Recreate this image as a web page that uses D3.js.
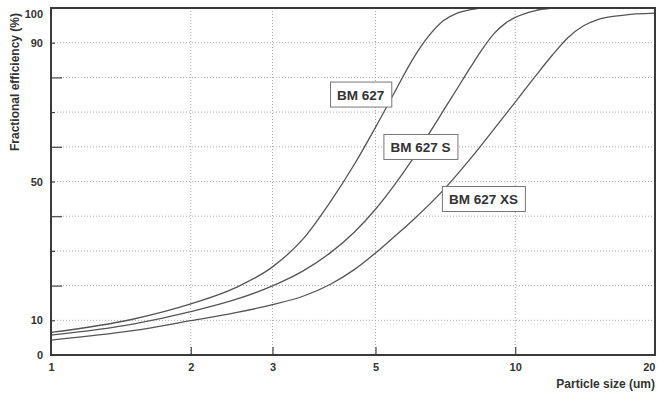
<!DOCTYPE html>
<html>
<head>
<meta charset="utf-8">
<script src="https://cdn.jsdelivr.net/npm/d3@7"></script>
<style>
  body { margin: 0; background: #fff; }
  svg { font-family: "Liberation Sans", Arial, sans-serif; }
  .grid line { stroke: #aaa; stroke-dasharray: 1,2; }
  .axis text { font-size: 11px; font-weight: bold; fill: #333; }
  .axis line { stroke: #444; stroke-width: 1.2; }
  .axis path { display: none; }
  .curve { fill: none; stroke: #555; stroke-width: 1.3; }
</style>
</head>
<body>
<div id="chart"></div>
<script>
// particle size (um) and fractional efficiency (%)
const sizes627 = [1, 1.5, 2, 2.5, 3, 3.5, 4, 4.5, 5, 5.5, 6, 6.5, 7, 7.5, 8, 8.4];
const eff627 = [6.5, 10.3, 14.7, 19.4, 25.4, 33.6, 44.2, 54.9, 65.6, 75.8, 85, 91.8, 96.3, 98.5, 99.5, 100];

const sizes627S = [1, 1.5, 2, 2.5, 3, 3.5, 4, 4.5, 5, 5.5, 6, 6.5, 7, 7.5, 8, 8.5, 9, 9.5, 10, 11, 12];
const eff627S = [5.7, 8.9, 12.5, 16, 19.9, 24.3, 29.5, 35.4, 42, 49.1, 56.3, 63.5, 70.4, 76.8, 82.8, 88.2, 92.6, 95.5, 97.3, 99.2, 100];

const sizes627XS = [1, 1.5, 2, 2.5, 3, 3.5, 4, 4.5, 5, 5.5, 6, 7, 8, 9, 10, 11, 12, 13, 14, 15, 17, 20];
const eff627XS = [4.3, 7, 9.9, 12.2, 14.5, 17, 20.4, 24.6, 29.4, 34.2, 38.7, 47.5, 56.5, 65.1, 72.9, 80, 86.3, 91.5, 94.8, 96.6, 97.9, 98.5];

const seriesNames = ['BM 627', 'BM 627 S', 'BM 627 XS'];
const xTicks = [1, 2, 3, 5, 10, 20];
const yTicks = [0, 10, 20, 30, 40, 50, 60, 70, 80, 90, 100];
const yLabels = [0, 10, 50, 90, 100];
const yLongTicks = [20, 40, 60, 80];

const series = [
  { name: seriesNames[0], x: sizes627, y: eff627 },
  { name: seriesNames[1], x: sizes627S, y: eff627S },
  { name: seriesNames[2], x: sizes627XS, y: eff627XS }
];

// where each label box sits (size, efficiency of its top-left corner)
const labelAt = [
  { s: 3.99, v: 78.8 },
  { s: 5.2, v: 63.7 },
  { s: 6.95, v: 48.7 }
];

const W = 657, H = 393;
const margin = { top: 8, right: 2, bottom: 38, left: 51 };
const width = W - margin.left - margin.right;
const height = H - margin.top - margin.bottom;

const svg = d3.select('#chart').append('svg')
  .attr('width', W).attr('height', H);
const g = svg.append('g')
  .attr('transform', 'translate(' + margin.left + ',' + margin.top + ')');

const x = d3.scaleLog().domain([1, 20]).range([0, width]);
const y = d3.scaleLinear().domain([0, 100]).range([height, 0]);

// dotted grid
const grid = g.append('g').attr('class', 'grid');
grid.selectAll('.h').data(yTicks.filter(d => d > 0 && d < 100)).enter()
  .append('line')
  .attr('x1', 0).attr('x2', width)
  .attr('y1', d => y(d)).attr('y2', d => y(d));
grid.selectAll('.v').data(xTicks.filter(d => d > 1 && d < 20)).enter()
  .append('line')
  .attr('y1', 0).attr('y2', height)
  .attr('x1', d => x(d)).attr('x2', d => x(d));

// axes
const yAxis = g.append('g').attr('class', 'axis')
  .call(d3.axisLeft(y).tickValues(yTicks).tickSizeInner(-4).tickSizeOuter(0).tickPadding(8)
    .tickFormat(d => yLabels.includes(d) ? d : ''));
yAxis.selectAll('.tick line')
  .attr('x2', d => yLongTicks.includes(d) ? 11 : 4);
yAxis.selectAll('.tick').filter(d => d === 100).select('text').attr('dy', '0.9em');

const xAxis = g.append('g').attr('class', 'axis')
  .attr('transform', 'translate(0,' + height + ')')
  .call(d3.axisBottom(x).tickValues(xTicks).tickSizeInner(-8).tickSizeOuter(0).tickPadding(8)
    .tickFormat(d3.format('d')));
xAxis.selectAll('.tick').filter(d => d === 1 || d === 20).select('line').remove();
xAxis.selectAll('.tick').filter(d => d === 20).select('text')
  .attr('text-anchor', 'end').attr('x', 0);

// curves
const line = d3.line().curve(d3.curveMonotoneX)
  .x(d => x(d[0])).y(d => y(d[1]));
g.selectAll('.curve').data(series).enter()
  .append('path')
  .attr('class', 'curve')
  .attr('d', d => line(d.x.map((s, i) => [s, d.y[i]])));

// frame
g.append('rect')
  .attr('width', width).attr('height', height)
  .attr('fill', 'none').attr('stroke', '#3a3a3a').attr('stroke-width', 2);

// label boxes
const labels = g.selectAll('.lbl').data(series).enter()
  .append('g').attr('class', 'lbl')
  .attr('transform', (d, i) => 'translate(' + x(labelAt[i].s) + ',' + y(labelAt[i].v) + ')');
labels.append('text')
  .attr('x', 7).attr('y', 18)
  .attr('font-size', 13.5).attr('font-weight', 'bold').attr('fill', '#333')
  .text(d => d.name);
labels.each(function () {
  const t = d3.select(this).select('text').node().getBBox();
  d3.select(this).insert('rect', 'text')
    .attr('x', 0.5).attr('y', 0.5)
    .attr('width', t.width + 14).attr('height', 25)
    .attr('fill', '#fff').attr('stroke', '#777').attr('stroke-width', 1);
});

// axis titles
svg.append('text')
  .attr('x', 655).attr('y', 388)
  .attr('text-anchor', 'end')
  .attr('font-size', 12).attr('font-weight', 'bold').attr('fill', '#333')
  .text('Particle size (um)');
svg.append('text')
  .attr('transform', 'translate(19,13) rotate(-90)')
  .attr('text-anchor', 'end')
  .attr('font-size', 12).attr('font-weight', 'bold').attr('fill', '#333')
  .text('Fractional efficiency (%)');
</script>
</body>
</html>
